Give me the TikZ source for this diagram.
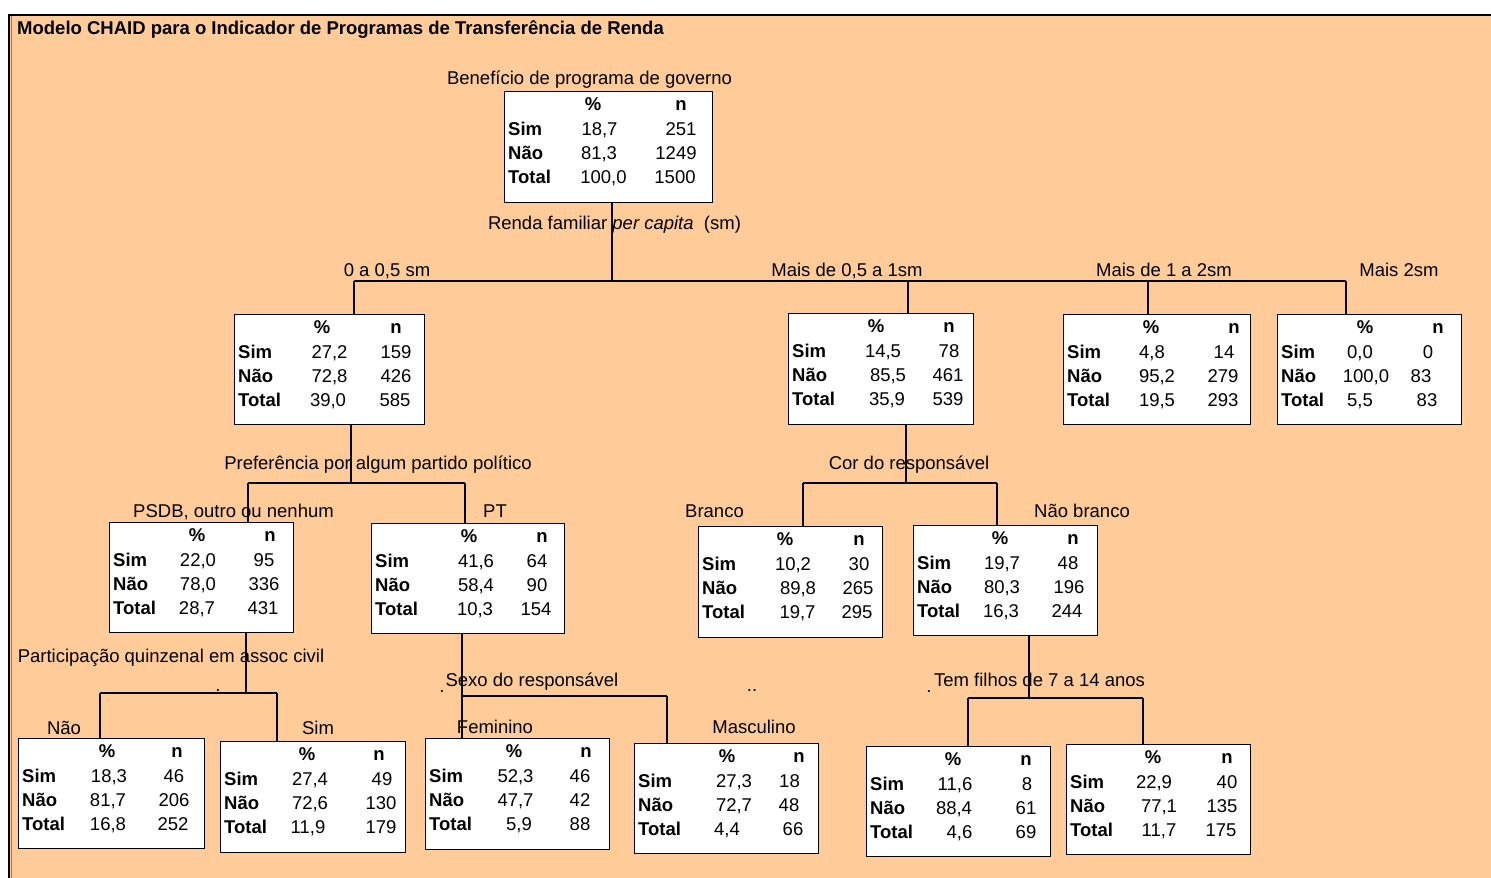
\documentclass[tikz,border=0pt]{standalone}
\usepackage{fontspec}
\setmainfont{Liberation Sans}
\definecolor{peach}{RGB}{255,204,153}
\tikzset{
  cbx/.style={draw, fill=white, line width=1.4pt, inner sep=0pt, anchor=north west},
  t/.style={inner sep=0pt, text height=13.3pt, text depth=0pt, font=\fontsize{18.5}{20}\selectfont},
  tb/.style={t, font=\fontsize{18.5}{20}\selectfont\bfseries},
  conn/.style={line width=1.4pt},
}
\newcommand\cb[5]{\node[cbx, minimum width={#4-#2}, minimum height={#5-#3}] (#1) at (#2,#3) {};\def\cbl{#2}\def\cbt{#3}}
\newcommand\chd[2]{\node[tb] at (#1,{\cbt+13}) {\%};\node[tb] at (#2,{\cbt+13}) {n};}
\newcommand\crw[6]{\node[tb, anchor=west] at ({\cbl+4},{\cbt+#1}) {#2};\node[t] at (#3,{\cbt+#1}) {#4};\node[t] at (#5,{\cbt+#1}) {#6};}
\newcommand\cthree[9]{\crw{37.5}{Sim}{#1}{#2}{#3}{#4}\crw{62}{Não}{#5}{#6}{#7}{#8}\def\ctmp{#9}}
\newcommand\ctot[4]{\crw{86}{Total}{#1}{#2}{#3}{#4}}
\begin{document}
\begin{tikzpicture}[x=1pt,y=-1pt]
\useasboundingbox (0,0) rectangle (1491,878);
\fill[white] (0,0) rectangle (1491,878);
\fill[peach] (10,14) rectangle (1491,878);
\draw[line width=2pt] (8.5,15) -- (1491,15);
\draw[line width=1.6pt] (9.2,14) -- (9.2,878);
\draw[line width=0.9pt, gray] (11.6,16) -- (11.6,878);

\node[tb, anchor=west] (title) at (17,28) {Modelo CHAID para o Indicador de Programas de Transferência de Renda};

% boxes
\cb{root}{504}{91}{712}{202}\chd{593}{681}
\cthree{599.5}{18,7}{681}{251}{599}{81,3}{676}{1249}{}\ctot{603.5}{100,0}{675}{1500}
\cb{n1}{234}{314}{424}{424}\chd{322}{396}
\cthree{329.5}{27,2}{396}{159}{329.5}{72,8}{396}{426}{}\ctot{328}{39,0}{395}{585}
\cb{n2}{788}{313}{973}{424}\chd{876}{949}
\cthree{883}{14,5}{949}{78}{888}{85,5}{948}{461}{}\ctot{887}{35,9}{948}{539}
\cb{n3}{1063}{314}{1250}{424}\chd{1151}{1234}
\cthree{1152}{4,8}{1224}{14}{1157}{95,2}{1223}{279}{}\ctot{1157}{19,5}{1223}{293}
\cb{n4}{1277}{314}{1461}{424}\chd{1365}{1438}
\cthree{1360}{0,0}{1428}{0}{1366}{100,0}{1421}{83}{}\ctot{1360}{5,5}{1427}{83}
\cb{n5}{109}{522}{293}{632}\chd{197}{270}
\cthree{198}{22,0}{264}{95}{198}{78,0}{264}{336}{}\ctot{197}{28,7}{263}{431}
\cb{n6}{371}{523}{564}{633}\chd{469}{542}
\cthree{476}{41,6}{537}{64}{476}{58,4}{537}{90}{}\ctot{475}{10,3}{536}{154}
\cb{n7}{698}{526}{882}{637}\chd{785}{859}
\cthree{793}{10,2}{859}{30}{798}{89,8}{858}{265}{}\ctot{797.5}{19,7}{857}{295}
\cb{n8}{913}{525}{1097}{635}\chd{1000}{1073}
\cthree{1002}{19,7}{1068}{48}{1002}{80,3}{1069}{196}{}\ctot{1001}{16,3}{1067}{244}
\cb{n9}{18}{738}{204}{848}\chd{107}{177}
\cthree{109}{18,3}{174}{46}{108}{81,7}{174}{206}{}\ctot{108}{16,8}{173}{252}
\cb{n10}{220}{741}{405}{852}\chd{307}{379}
\cthree{310}{27,4}{382}{49}{310}{72,6}{381}{130}{}\ctot{308}{11,9}{381}{179}
\cb{n11}{425}{738}{609}{849}\chd{514}{586}
\cthree{515.5}{52,3}{580}{46}{515.5}{47,7}{580}{42}{}\ctot{519}{5,9}{580}{88}
\cb{n12}{634}{743}{818}{853}\chd{727}{799}
\cthree{734}{27,3}{789.5}{18}{734}{72,7}{789}{48}{}\ctot{727}{4,4}{793}{66}
\cb{n13}{866}{746}{1050}{856}\chd{953}{1026}
\cthree{955}{11,6}{1027}{8}{954}{88,4}{1026}{61}{}\ctot{959.5}{4,6}{1026}{69}
\cb{n14}{1066}{744}{1250}{854}\chd{1153}{1227}
\cthree{1154}{22,9}{1227}{40}{1159}{77,1}{1222}{135}{}\ctot{1159}{11,7}{1221}{175}

% labels
\node[t] (lroot) at (589.5,78) {Benefício de programa de governo};
\node[t] (lrenda) at (614.5,223) {Renda familiar \textit{per capita}\ \ (sm)};
\node[t] (l1) at (387,270) {0 a 0,5 sm};
\node[t] (l2) at (847,270) {Mais de 0,5 a 1sm};
\node[t] (l3) at (1164,270) {Mais de 1 a 2sm};
\node[t] (l4) at (1399,270) {Mais 2sm};
\node[t] (lpref) at (378,463) {Preferência por algum partido político};
\node[t] (l5) at (233.5,511) {PSDB, outro ou nenhum};
\node[t] (l6) at (495,511) {PT};
\node[t] (lcor) at (909,463) {Cor do responsável};
\node[t] (l7) at (714.5,511) {Branco};
\node[t] (l8) at (1082,511) {Não branco};
\node[t] (lpart) at (171,656) {Participação quinzenal em assoc civil};
\node[t] (l9) at (64,728) {Não};
\node[t] (l10) at (318,728) {Sim};
\node[t] (lsexo) at (532,680) {Sexo do responsável};
\node[t] (l11) at (495,727) {Feminino};
\node[t] (l12) at (754,727) {Masculino};
\node[t] (lfil) at (1039.5,680) {Tem filhos de 7 a 14 anos};
\node[t, anchor=base] (d1) at (218,691) {.};
\node[t, anchor=base] (d2) at (442,692) {.};
\node[t, anchor=base] (d3) at (929,692) {.};
\node[t, anchor=base] (d4) at (752,691) {..};

% junction coordinates
\coordinate (j0) at (612,281);
\coordinate (j0a) at (354,281);
\coordinate (j0b) at (908,281);
\coordinate (j0c) at (1148,281);
\coordinate (j0d) at (1346,281);
\coordinate (j1) at (351,483);
\coordinate (j1a) at (248,483);
\coordinate (j1b) at (465,483);
\coordinate (j2) at (906,483);
\coordinate (j2a) at (803,483);
\coordinate (j2b) at (997,483);
\coordinate (j5) at (246,693);
\coordinate (j5a) at (100,693);
\coordinate (j5b) at (277,693);
\coordinate (j6) at (462,696);
\coordinate (j6b) at (667,696);
\coordinate (j8) at (1029,698);
\coordinate (j8a) at (968,698);
\coordinate (j8b) at (1143,698);

% connectors
\draw[conn] (root.south -| j0) -- (j0);
\draw[conn] (j0a) -- (j0d);
\draw[conn] (j0a) -- (n1.north -| j0a);
\draw[conn] (j0b) -- (n2.north -| j0b);
\draw[conn] (j0c) -- (n3.north -| j0c);
\draw[conn] (j0d) -- (n4.north -| j0d);

\draw[conn] (n1.south -| j1) -- (j1);
\draw[conn] (j1a) -- (j1b);
\draw[conn] (j1a) -- (n5.north -| j1a);
\draw[conn] (j1b) -- (n6.north -| j1b);

\draw[conn] (n2.south -| j2) -- (j2);
\draw[conn] (j2a) -- (j2b);
\draw[conn] (j2a) -- (n7.north -| j2a);
\draw[conn] (j2b) -- (n8.north -| j2b);

\draw[conn] (n5.south -| j5) -- (j5);
\draw[conn] (j5a) -- (j5b);
\draw[conn] (j5a) -- (n9.north -| j5a);
\draw[conn] (j5b) -- (n10.north -| j5b);

\draw[conn] (n6.south -| j6) -- (j6);
\draw[conn] (j6) -- (j6b);
\draw[conn] (j6) -- (n11.north -| j6);
\draw[conn] (j6b) -- (n12.north -| j6b);

\draw[conn] (n8.south -| j8) -- (j8);
\draw[conn] (j8a) -- (j8b);
\draw[conn] (j8a) -- (n13.north -| j8a);
\draw[conn] (j8b) -- (n14.north -| j8b);
\end{tikzpicture}
\end{document}
